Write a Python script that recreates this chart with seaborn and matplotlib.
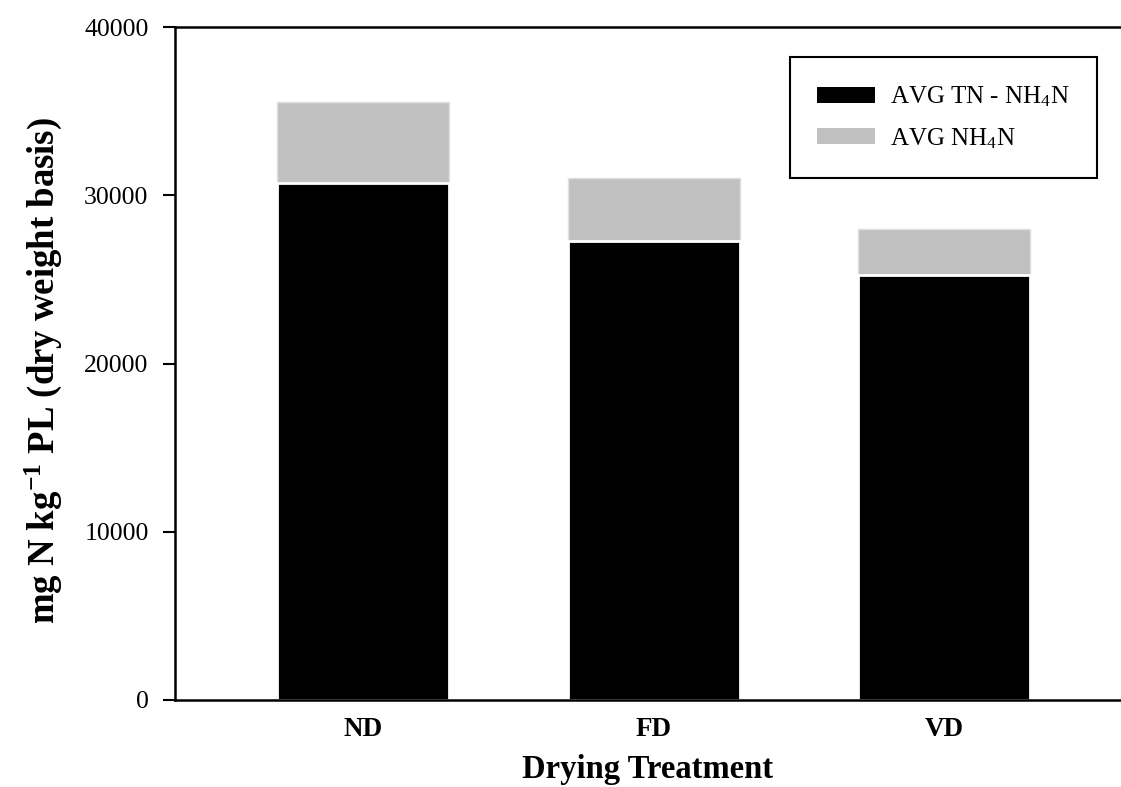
import matplotlib
matplotlib.use("Agg")
import matplotlib.pyplot as plt
import seaborn as sns
import pandas as pd

treatments = ["ND", "FD", "VD"]
tn_minus_nh4 = [30700, 27300, 25270]
nh4 = [4860, 3720, 2720]
y_ticks = [0, 10000, 20000, 30000, 40000]

sns.set_style("white")
plt.rcParams["font.family"] = ["Liberation Serif", "DejaVu Serif"]
plt.rcParams["mathtext.fontset"] = "custom"
plt.rcParams["mathtext.rm"] = "Liberation Serif"
plt.rcParams["mathtext.it"] = "Liberation Serif:italic"
plt.rcParams["mathtext.bf"] = "Liberation Serif:bold"
plt.rcParams["text.color"] = "black"
plt.rcParams["axes.labelcolor"] = "black"
plt.rcParams["xtick.color"] = "black"
plt.rcParams["ytick.color"] = "black"

df = pd.DataFrame({
    "Treatment": treatments,
    "Black": tn_minus_nh4,
    "Total": [a + b for a, b in zip(tn_minus_nh4, nh4)],
})

fig = plt.figure(figsize=(11.21, 7.87), dpi=100)
ax = fig.add_axes([175 / 1121, 1 - 700 / 787, (1121 - 175) / 1121, (700 - 27) / 787])

sns.barplot(data=df, x="Treatment", y="Total", color="#C0C0C0", width=0.592,
            saturation=1, edgecolor="#E0E0E0", linewidth=1.0, ax=ax,
            label=r"AVG NH$_4$N")
sns.barplot(data=df, x="Treatment", y="Black", color="black", width=0.592,
            saturation=1, edgecolor="white", linewidth=2.0, ax=ax,
            label=r"AVG TN - NH$_4$N")

ax.set_xlim(-0.647, 2.609)
ax.set_ylim(0, 40000)
ax.set_yticks(y_ticks)
ax.set_yticklabels([str(v) for v in y_ticks], fontsize=18.5)
ax.tick_params(axis="y", direction="out", length=9, width=1.5, left=True, pad=10)
ax.tick_params(axis="x", length=0, pad=12)
for lab in ax.get_xticklabels():
    lab.set_fontweight("bold")
    lab.set_fontsize(19.5)

for s in ["left", "top", "bottom"]:
    ax.spines[s].set_visible(True)
    ax.spines[s].set_color("black")
    ax.spines[s].set_linewidth(1.8)
ax.spines["right"].set_visible(False)

ax.set_xlabel("Drying Treatment", fontsize=23.5, fontweight="bold", labelpad=9)
ax.set_ylabel(r"mg N kg$^{\mathbf{-1}}$ PL (dry weight basis)", fontsize=26.5,
              fontweight="bold")
ax.yaxis.set_label_coords(-0.117, 0.49)

handles, labels = ax.get_legend_handles_labels()
order = [1, 0]
leg = ax.legend([handles[i] for i in order], [labels[i] for i in order],
                loc="upper left", bbox_to_anchor=(0.650, 0.777, 0.3245, 0.1784),
                mode="expand", borderaxespad=0, fontsize=18, frameon=True,
                fancybox=False, edgecolor="black", framealpha=1,
                handlelength=2.3, handleheight=0.6, borderpad=1.1,
                labelspacing=0.68, handletextpad=0.6)
leg.get_frame().set_linewidth(1.5)
for h in leg.legend_handles:
    h.set_edgecolor("none")

fig.savefig("out.png", dpi=100)
